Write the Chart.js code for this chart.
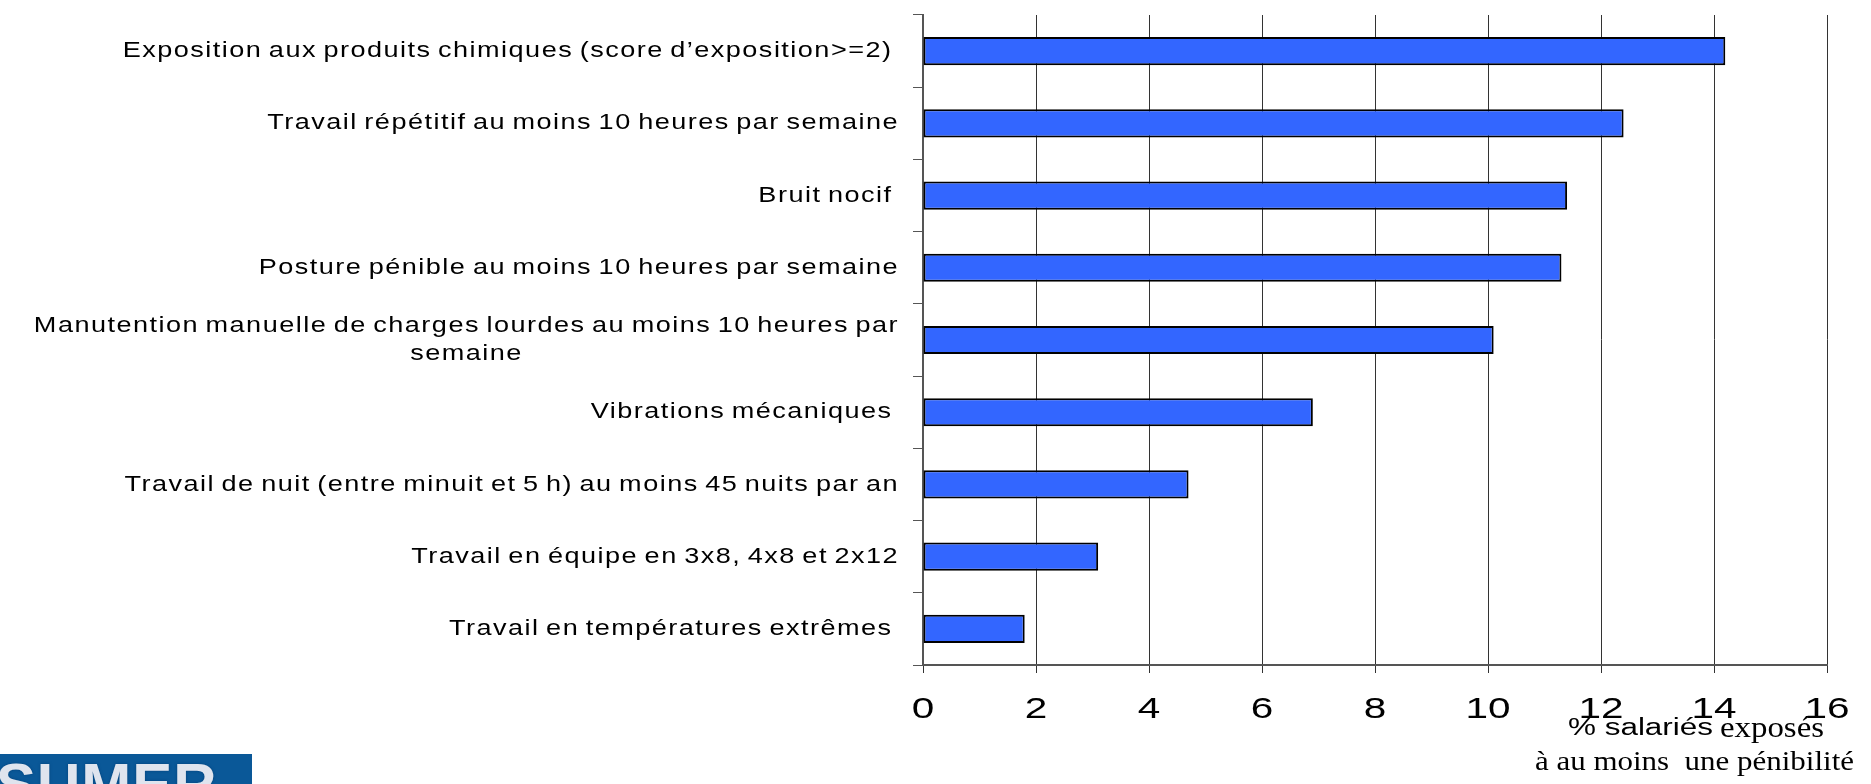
<!DOCTYPE html>
<html>
<head>
<meta charset="utf-8">
<script src="https://cdn.jsdelivr.net/npm/chart.js@4.4.1/dist/chart.umd.min.js"></script>
<style>
html,body{margin:0;padding:0;background:#fff;overflow:hidden}
#wrap{position:relative;width:1871px;height:784px}
#c{position:absolute;left:0;top:0}
#logo{position:absolute;left:0;top:754px;width:252px;height:30px;background:#0a5898;overflow:hidden}
#logo span{position:absolute;left:-4px;top:1px;font:bold 60px "Liberation Sans",Arial,sans-serif;color:#dfe4ee;letter-spacing:1px;line-height:1;text-shadow:0 0 3px #03407a}
</style>
</head>
<body>
<div id="wrap">
<canvas id="c" width="1871" height="784"></canvas>
<div id="logo"><span>SUMER</span></div>
</div>
<script>
const categories = [
  "Exposition aux produits chimiques (score d\u2019exposition>=2) ",
  "Travail répétitif au moins 10 heures par semaine",
  "Bruit nocif ",
  "Posture pénible au moins 10 heures par semaine",
  ["Manutention manuelle de charges lourdes au moins 10 heures par", "semaine"],
  "Vibrations mécaniques ",
  "Travail de nuit (entre minuit et 5 h) au moins 45 nuits par an",
  "Travail en équipe en 3x8, 4x8 et 2x12",
  "Travail en températures extrêmes "
];
const values = [14.2, 12.4, 11.4, 11.3, 10.1, 6.9, 4.7, 3.1, 1.8];
const xTickValues = [0, 2, 4, 6, 8, 10, 12, 14, 16];
const axisTitleLine1 = ["% salariés", "exposés"];
const axisTitleLine2 = ["à au moins  une pénibilité"];

// continuation lines of multi-line labels are centred on their first line
const continuation = {};
categories.forEach(c => {
  if (Array.isArray(c)) for (let i = 1; i < c.length; i++) continuation[c[i]] = c[0];
});

function stretchLabels(scale, opt) {
  if (scale.$stretched) return;
  scale.$stretched = true;
  const orig = scale.drawLabels;
  scale.drawLabels = function (area) {
    const ctx = this.ctx;
    const nativeFill = ctx.fillText;
    ctx.fillText = function (text, x, y) {
      ctx.save();
      ctx.letterSpacing = opt.spacing + 'px';
      ctx.wordSpacing = (opt.word || 0) + 'px';
      let dx = 0;
      const lead = opt.lead && opt.lead[text];
      if (lead) {
        dx = -(ctx.measureText(lead).width - ctx.measureText(text).width) / 2;
      }
      ctx.translate(x, 0);
      ctx.scale(opt.sx, 1);
      nativeFill.call(ctx, text, dx, y);
      ctx.restore();
    };
    try { orig.call(this, area); } finally { delete ctx.fillText; }
  };
}

function fitText(ctx, text, font, x, y, targetW) {
  ctx.save();
  ctx.font = font;
  ctx.textAlign = 'left';
  ctx.textBaseline = 'alphabetic';
  ctx.fillStyle = '#000';
  const w = ctx.measureText(text).width;
  ctx.translate(x, y);
  ctx.scale(targetW / w, 1);
  ctx.fillText(text, 0, 0);
  ctx.restore();
}

const axisTitlePlugin = {
  id: 'axisTitle',
  afterDraw(chart) {
    const ctx = chart.ctx;
    const r = chart.chartArea.right;
    const b = chart.scales.x.bottom;
    fitText(ctx, axisTitleLine1[0], '23px "Liberation Sans", Arial', r - 259, b - 49, 145);
    fitText(ctx, axisTitleLine1[1], '29px "Liberation Serif", "Times New Roman"', r - 107, b - 47, 104);
    fitText(ctx, axisTitleLine2[0], '27px "Liberation Serif", "Times New Roman"', r - 292, b - 14, 319);
  }
};

new Chart(document.getElementById('c'), {
  type: 'bar',
  data: {
    labels: categories,
    datasets: [{
      data: values,
      backgroundColor: '#3366ff',
      borderColor: '#000000',
      borderWidth: 2,
      borderSkipped: false,
      barPercentage: 0.39,
      categoryPercentage: 1
    }]
  },
  options: {
    indexAxis: 'y',
    responsive: false,
    animation: false,
    devicePixelRatio: 1,
    layout: { padding: { top: 15, right: 44, left: 0, bottom: 0 } },
    plugins: { legend: { display: false }, tooltip: { enabled: false } },
    scales: {
      x: {
        type: 'linear',
        position: 'bottom',
        min: 0,
        max: 16,
        afterBuildTicks: s => { s.ticks = xTickValues.map(v => ({ value: v })); },
        grid: { color: '#333', lineWidth: 1, tickLength: 8, drawOnChartArea: true, drawTicks: true },
        border: { display: true, color: '#555', width: 2 },
        ticks: {
          color: '#000',
          font: { family: '"Liberation Sans", Arial', size: 30, lineHeight: 1.2 },
          padding: 19, maxRotation: 0, autoSkip: false
        },
        afterFit: s => { s.height = 119; s.paddingLeft = 0; s.paddingRight = 0; stretchLabels(s, { sx: 1.35, spacing: 0 }); }
      },
      y: {
        type: 'category',
        position: 'left',
        offset: true,
        grid: { display: true, drawOnChartArea: false, drawTicks: true, tickLength: 10, color: '#555', offset: true },
        border: { display: true, color: '#555', width: 2 },
        ticks: {
          color: '#000',
          font: { family: '"Liberation Sans", Arial', size: 22, lineHeight: 1.28 },
          padding: 14, autoSkip: false
        },
        afterFit: s => { s.width = 923; s.paddingTop = 0; s.paddingBottom = 0; stretchLabels(s, { sx: 1.23, spacing: 1.2, word: -2, lead: continuation }); }
      }
    }
  },
  plugins: [axisTitlePlugin]
});
</script>
</body>
</html>
